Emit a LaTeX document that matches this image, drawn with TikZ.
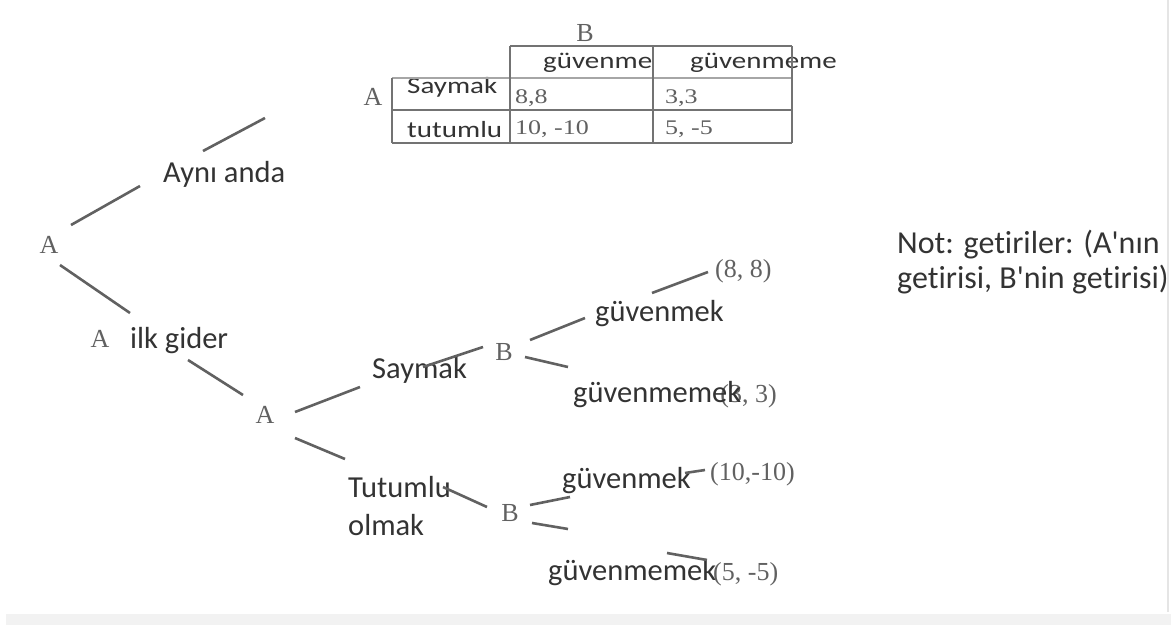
\documentclass[tikz,border=0pt]{standalone}
\usepackage{fontspec}
\setmainfont{Liberation Serif}
\newfontfamily\calfont[Ligatures=NoCommon]{Carlito}
\begin{document}
\begin{tikzpicture}[x=1pt,y=-1pt,
  sans/.style={font=\calfont\fontsize{30.5}{38}\selectfont, text=black!80, inner sep=0pt},
  serif/.style={font=\fontsize{26}{30}\selectfont, text=black!62, inner sep=0pt},
  tsans/.style={sans, font=\calfont\fontsize{29}{34}\selectfont, yscale=0.8, transform shape},
  tserif/.style={serif, yscale=0.8, transform shape},
  branch/.style={draw=black!62, line width=2.6pt},
  grid/.style={draw=black!55, line width=1.4pt}]
\useasboundingbox (0,0) rectangle (1171,625);
\fill[black!5] (6,614) rectangle (1171,625);
\draw[black!10, line width=1.5pt] (1168,0) -- (1168,612);

% ---- table ----
\node[serif, anchor=base] (tB) at (585,41) {B};
\node[serif, anchor=base] (tA) at (373,105) {A};
\node[tsans, anchor=base west] (h1) at (543,68) {güvenme};
\node[tsans, anchor=base west] (h2) at (690,68) {güvenmeme};
\node[tsans, anchor=base west] (r1) at (407,93) {Saymak};
\node[tsans, anchor=base west] (r2) at (407,137) {tutumlu};
\node[tserif, anchor=base west] (c11) at (515,103) {8,8};
\node[tserif, anchor=base west] (c12) at (665,103) {3,3};
\node[tserif, anchor=base west] (c21) at (515,134) {10, -10};
\node[tserif, anchor=base west] (c22) at (665,134) {5, -5};
\coordinate (g1) at (510,46);  \coordinate (g2) at (792,46);
\coordinate (g3) at (392,78);  \coordinate (g4) at (792,78);
\coordinate (g5) at (392,110); \coordinate (g6) at (792,110);
\coordinate (g7) at (392,143); \coordinate (g8) at (792,143);
\coordinate (g9) at (510,143); \coordinate (g10) at (653,46);
\coordinate (g11) at (653,143);
\draw[grid] (g1) -- (g2);
\draw[grid, draw=black!35] (g3) -- (g4);
\draw[grid] (g5) -- (g6);
\draw[grid] (g7) -- (g8);
\draw[grid] (g3) -- (g7);
\draw[grid] (g1) -- (g9);
\draw[grid] (g10) -- (g11);
\draw[grid] (g2) -- (g8);

% ---- tree ----
\node[serif, anchor=base] (A0) at (49,253) {A};
\node[sans, anchor=base west] (ayni) at (163,182) {Aynı anda};
\node[serif, anchor=base] (A1) at (100,347) {A};
\node[sans, anchor=base west] (ilk) at (130,348) {ilk gider};
\node[serif, anchor=base] (A2) at (265,423) {A};
\node[sans, anchor=base west] (say) at (372,378) {Saymak};
\node[serif, anchor=base] (B1) at (504,360) {B};
\node[sans, anchor=base west] (gu1) at (595,321) {güvenmek};
\node[serif, anchor=base west] (p88) at (715,277) {(8, 8)};
\node[serif, anchor=base east] (p33) at (777,402) {(3, 3)};
\node[sans, anchor=base west] (gm1) at (573,402) {güvenmemek};
\node[sans, anchor=base west, align=left] (tut) at (348,535) {Tutumlu\\olmak};
\node[serif, anchor=base] (B2) at (510,521) {B};
\node[sans, anchor=base west] (gu2) at (562,488) {güvenmek};
\node[serif, anchor=base west] (p1010) at (710,480) {(10,-10)};
\node[sans, anchor=base west] (gm2) at (548,580) {güvenmemek};
\node[serif, anchor=base west] (p55) at (713,580) {(5, -5)};

\node[sans, anchor=base west, align=left, font=\calfont\fontsize{32}{35}\selectfont] (note) at (897,288)
  {Not: getiriler: (A'nın\\getirisi, B'nin getirisi)};

\coordinate (e1a) at (71,225);  \coordinate (e1b) at (140,186);
\coordinate (e2a) at (203,151); \coordinate (e2b) at (265,118);
\coordinate (e3a) at (60,265);  \coordinate (e3b) at (130,313);
\coordinate (e4a) at (188,360); \coordinate (e4b) at (243,395);
\coordinate (e5a) at (295,412); \coordinate (e5b) at (360,387);
\coordinate (e6a) at (423,367); \coordinate (e6b) at (483,347);
\coordinate (e7a) at (530,340); \coordinate (e7b) at (585,318);
\coordinate (e8a) at (652,293); \coordinate (e8b) at (708,272);
\coordinate (e9a) at (525,357); \coordinate (e9b) at (568,367);
\coordinate (e10a) at (295,438); \coordinate (e10b) at (345,459);
\coordinate (e11a) at (443,487); \coordinate (e11b) at (487,507);
\coordinate (e12a) at (530,505); \coordinate (e12b) at (570,497);
\coordinate (e13a) at (685,473); \coordinate (e13b) at (705,470);
\coordinate (e14a) at (532,523); \coordinate (e14b) at (568,529);
\coordinate (e15a) at (667,553); \coordinate (e15b) at (707,560);
\foreach \i in {1,...,15}{\draw[branch] (e\i a) -- (e\i b);}
\end{tikzpicture}
\end{document}
